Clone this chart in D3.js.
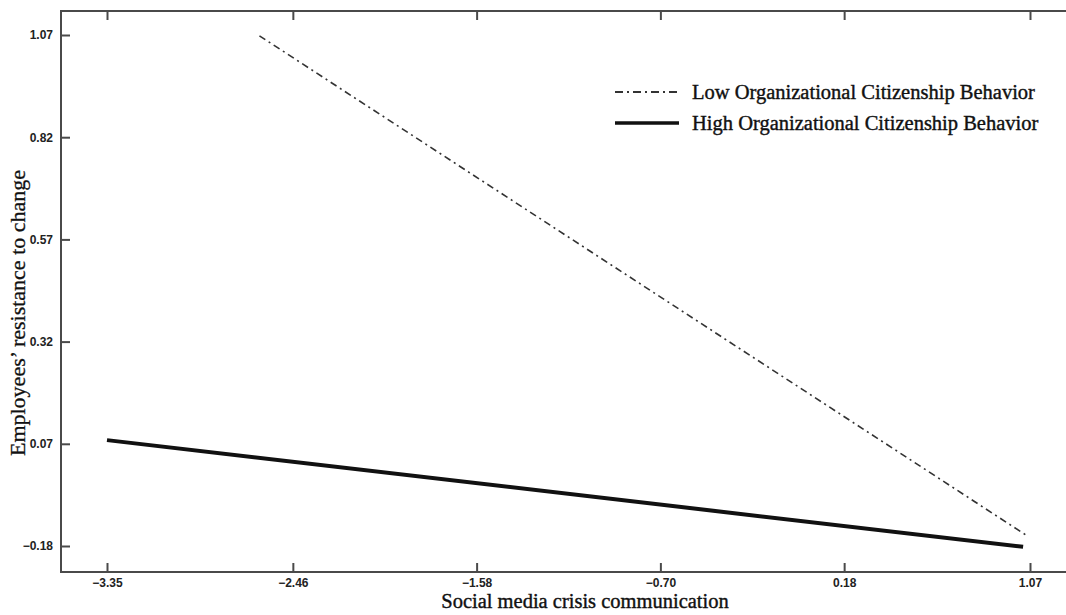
<!DOCTYPE html>
<html>
<head>
<meta charset="utf-8">
<script src="https://cdn.jsdelivr.net/npm/d3@7"></script>
<style>
  body { margin: 0; background: #fff; }
  svg { display: block; }
</style>
</head>
<body>
<div id="chart"></div>
<script>
// tick values as printed on the axes
const xTicks = [-3.35, -2.46, -1.58, -0.70, 0.18, 1.07];
const yTicks = [-0.18, 0.07, 0.32, 0.57, 0.82, 1.07];

// simple slopes
const lowOCB = [
    { x: -2.62, y: 1.068 },
    { x: 1.05, y: -0.153 }
];
const highOCB = [
    { x: -3.35, y: 0.079 },
    { x: 1.037, y: -0.182 }
];

const seriesNames = ["Low Organizational Citizenship Behavior", "High Organizational Citizenship Behavior"];

const width = 1066, height = 615;
const frame = { left: 61, top: 11, bottom: 572, right: 1066 };

const svg = d3.select("#chart").append("svg")
    .attr("width", width)
    .attr("height", height);

const xScale = d3.scaleLinear().domain([-3.35, 1.07]).range([107, 1030]);
const yScale = d3.scaleLinear().domain([-0.18, 1.07]).range([546, 35]);

const axisColor = "#4a4a4a";
const serif = "'Liberation Serif', 'Times New Roman', serif";

// frame lines: left, bottom, top (no right border)
svg.append("path")
    .attr("d", `M${frame.right},${frame.top}H${frame.left}V${frame.bottom}H${frame.right}`)
    .attr("fill", "none")
    .attr("stroke", axisColor)
    .attr("stroke-width", 2);

function styleAxis(g) {
    g.select(".domain").remove();
    g.selectAll(".tick line").attr("stroke", axisColor).attr("stroke-width", 2);
    g.selectAll(".tick text")
        .attr("fill", "#222")
        .style("font-family", "'Liberation Sans Narrow', 'Liberation Sans', Arial, sans-serif")
        .style("font-weight", "bold")
        .style("font-size", "12px");
}

const fmt = d => d3.format(".2f")(d);

svg.append("g")
    .attr("transform", `translate(0,${frame.bottom})`)
    .call(d3.axisBottom(xScale).tickValues(xTicks).tickFormat(fmt).tickSize(-9).tickPadding(6))
    .call(styleAxis);

// top ticks, no labels
svg.append("g")
    .attr("transform", `translate(0,${frame.top})`)
    .call(d3.axisTop(xScale).tickValues(xTicks).tickFormat("").tickSize(-9))
    .call(styleAxis);

svg.append("g")
    .attr("transform", `translate(${frame.left},0)`)
    .call(d3.axisLeft(yScale).tickValues(yTicks).tickFormat(fmt).tickSize(-9).tickPadding(8))
    .call(styleAxis);

const line = d3.line().x(d => xScale(d.x)).y(d => yScale(d.y));

svg.append("path")
    .datum(lowOCB)
    .attr("d", line)
    .attr("fill", "none")
    .attr("stroke", "#333")
    .attr("stroke-width", 1.6)
    .attr("stroke-dasharray", "7,4,2,4");

svg.append("path")
    .datum(highOCB)
    .attr("d", line)
    .attr("fill", "none")
    .attr("stroke", "#111")
    .attr("stroke-width", 4);

// legend
const legend = svg.append("g").attr("transform", "translate(615,92)");
const legendStyles = [
    { width: 1.8, dash: "8,4,2,4", color: "#333" },
    { width: 3.5, dash: null, color: "#111" }
];
seriesNames.forEach((name, i) => {
    const row = legend.append("g").attr("transform", `translate(0,${i * 31})`);
    row.append("line")
        .attr("x1", 0).attr("x2", 64)
        .attr("y1", 0).attr("y2", 0)
        .attr("stroke", legendStyles[i].color)
        .attr("stroke-width", legendStyles[i].width)
        .attr("stroke-dasharray", legendStyles[i].dash);
    row.append("text")
        .attr("x", 77)
        .attr("y", 7)
        .attr("fill", "#111")
        .attr("stroke", "#111")
        .attr("stroke-width", 0.4)
        .style("font-family", serif)
        .style("font-size", "20.5px")
        .text(name);
});

// axis titles
svg.append("text")
    .attr("x", 585)
    .attr("y", 608)
    .attr("text-anchor", "middle")
    .attr("fill", "#111")
    .attr("stroke", "#111")
    .attr("stroke-width", 0.4)
    .style("font-family", serif)
    .style("font-size", "20.5px")
    .text("Social media crisis communication");

svg.append("text")
    .attr("transform", "translate(25,313) rotate(-90)")
    .attr("text-anchor", "middle")
    .attr("fill", "#111")
    .attr("stroke", "#111")
    .attr("stroke-width", 0.3)
    .style("font-family", serif)
    .style("font-size", "22px")
    .text("Employees’ resistance to change");
</script>
</body>
</html>
